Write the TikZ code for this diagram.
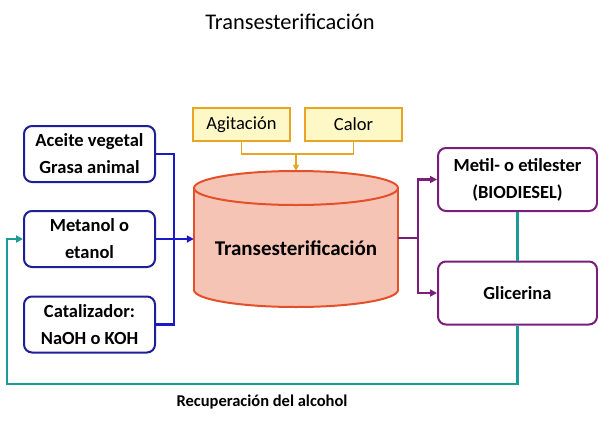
\documentclass[tikz,border=0pt]{standalone}
\usepackage{fontspec}
\setmainfont{Carlito}
\usetikzlibrary{arrows.meta}
\definecolor{navyb}{HTML}{1E1E96}
\definecolor{blueln}{HTML}{1A1AC8}
\definecolor{purp}{HTML}{7A1E7A}
\definecolor{teal2}{HTML}{1C9A96}
\definecolor{goldb}{HTML}{E8A426}
\definecolor{goldf}{HTML}{FEF8C6}
\definecolor{cylf}{HTML}{F5C4B4}
\definecolor{cylb}{HTML}{E4502A}
\tikzset{
  inbox/.style={draw=navyb, line width=2pt, rounded corners=8pt, fill=white,
    minimum width=131pt, minimum height=56pt, align=center, inner sep=0pt,
    font=\fontsize{18.5}{27}\selectfont\bfseries},
  outbox/.style={inbox, draw=purp, minimum width=159pt, minimum height=63pt},
  condbox/.style={draw=goldb, line width=1.5pt, fill=goldf, minimum width=97pt,
    minimum height=33pt, inner sep=0pt, font=\fontsize{18.5}{22}\selectfont},
  tip/.style={-{Triangle[length=7pt,width=7pt]}},
  bl/.style={draw=blueln, line width=2.2pt},
  pl/.style={draw=purp, line width=2.2pt},
  tl/.style={draw=teal2, line width=2.2pt},
  ol/.style={draw=goldb, line width=1.6pt},
}
\begin{document}
\begin{tikzpicture}[x=1pt,y=-1pt]
\useasboundingbox (0,0) rectangle (598,421);
% title
\node (title) at (290,22) {\fontsize{22.4}{26}\selectfont Transesterificación};
% cylinder
\fill[cylf] (296,290) ellipse [x radius=102, y radius=17];
\draw[cylb, line width=2pt] (296,290) ellipse [x radius=102, y radius=17];
\fill[cylf] (194,188) rectangle (398,290);
\draw[cylb, line width=2pt] (194,188) -- (194,290) (398,188) -- (398,290);
\draw[cylb, line width=2pt, fill=cylf] (296,188) ellipse [x radius=102, y radius=17];
\node[minimum width=204pt, minimum height=136pt, inner sep=0pt] (cyl) at (296,239) {};
\node (cyltext) at (296,248) {\fontsize{21}{25}\selectfont\bfseries Transesterificación};
% inputs
\node[inbox] (a) at (89.5,154) {Aceite vegetal\\Grasa animal};
\node[inbox] (m) at (89.5,239) {Metanol o\\etanol};
\node[inbox] (c) at (89.5,324.5) {Catalizador:\\NaOH o KOH};
% conditions
\node[condbox] (ag) at (241.5,124.5) {Agitación};
\node[condbox] (ca) at (353.5,124.5) {Calor};
% outputs
\node[outbox] (bd) at (517.5,179.5) {Metil- o etilester\\(BIODIESEL)};
\node[outbox] (gl) at (517.5,293) {Glicerina};
% coordinates
\coordinate (jb) at (174,239);
\coordinate (jo) at (296,154);
\coordinate (jp) at (418,238);
\coordinate (rl) at (7,384);
% blue
\draw[bl] (a.east) -| (jb);
\draw[bl] (c.east) -| (jb);
\draw[bl, tip] (m.east) -- (cyl.west |- m.east);
% gold
\draw[ol] (ag.south) |- (jo) -| (ca.south);
\draw[ol, -{Triangle[length=6pt,width=6pt]}] (jo) -- (cyl.north);
% purple
\draw[pl] (cyl.east |- jp) -- (jp);
\draw[pl, tip] (jp) |- (bd.west);
\draw[pl, tip] (jp) |- (gl.west);
% teal
\draw[tl] (bd.south) -- (gl.north);
\draw[tl, tip] (gl.south) |- (rl) |- (m.west);
\node[font=\fontsize{16.5}{20}\selectfont\bfseries] (lab) at (262,402) {Recuperación del alcohol};
\end{tikzpicture}
\end{document}
